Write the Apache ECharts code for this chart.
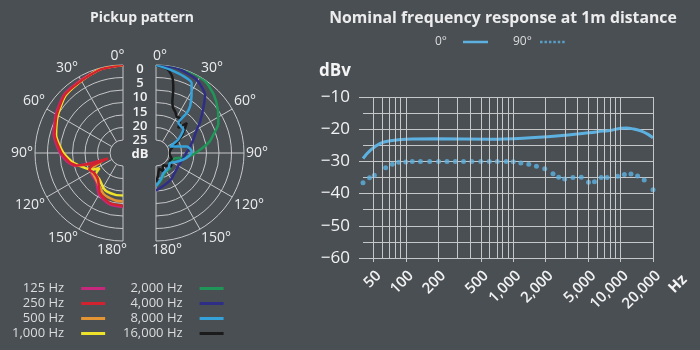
<!DOCTYPE html>
<html><head><meta charset="utf-8">
<script src="https://cdn.jsdelivr.net/npm/echarts@6/dist/echarts.min.js"></script>
<style>html,body{margin:0;padding:0;background:#4a4f54;}#c{width:700px;height:350px;}</style>
</head><body><div id="c"></div>
<script>
// ---------- Frequency response data ----------
const labelFreqs = [50, 100, 200, 500, 1000, 2000, 5000, 10000, 20000];
const gridFreqs = [40, 50, 60, 70, 80, 90, 100, 200, 300, 400, 500, 600, 700, 800, 900, 1000, 2000, 3000, 4000, 5000, 6000, 7000, 8000, 9000, 10000, 20000];
const freq0 = [40, 47, 58, 72, 100, 200, 600, 1235, 2530, 5100, 6800, 7900, 10050, 11300, 13000, 15600, 18000, 20000];
const db0 = [-29.1, -26.5, -24.4, -23.6, -23.1, -23.0, -23.1, -22.8, -22.1, -21.1, -20.6, -20.4, -19.7, -19.6, -19.9, -20.6, -21.6, -22.7];
const freq90 = [40, 46, 51, 65, 75, 86, 100, 115, 137, 167, 202, 242, 289, 345, 412, 499, 599, 711, 860, 1000, 1178, 1396, 1646, 1966, 2346, 2650, 3012, 3596, 4300, 5022, 5706, 6585, 7478, 9380, 10820, 12480, 14370, 16560, 20000];
const db90 = [-36.6, -35.1, -34.3, -32.0, -30.9, -30.3, -30.2, -30, -30, -30, -30, -30, -30, -30, -30, -30, -30, -30, -30, -30.1, -30.5, -30.9, -31.5, -32.3, -33.8, -34.9, -35.5, -35.0, -34.9, -36.5, -36.3, -35.0, -35.0, -34.6, -34.1, -33.9, -34.5, -35.8, -38.8];

// ---------- Pickup pattern data: angle (deg) / attenuation (dB) ----------
const a125 = [0, 15, 30, 45, 60, 75, 90, 100, 105, 110, 115, 125, 137, 150, 165, 180];
const d125 = [0, 0.4, 1.5, 2.0, 4.2, 6.5, 10.0, 13.0, 15.5, 27, 21, 20, 19.5, 16, 14, 13.6];
const a250 = [0, 15, 30, 45, 60, 75, 90, 100, 105, 108, 110, 112, 116, 125, 137, 150, 165, 180];
const d250 = [0, 0.6, 1.8, 2.3, 4.6, 6.9, 10.6, 13.6, 16, 21.2, 28.8, 22, 20.2, 21.2, 20.6, 16.7, 14.5, 14.1];
const a500 = [0, 15, 30, 45, 60, 75, 90, 100, 106, 112, 118, 128, 140, 155, 170, 180];
const d500 = [0, 0.5, 1.8, 2.5, 4.9, 7.2, 11, 14, 17, 26, 20.5, 20.5, 19.5, 17, 16, 15.8];
const a1000 = [0, 15, 30, 45, 60, 75, 90, 100, 110, 118, 123, 128, 139, 150, 157, 170, 180];
const d1000 = [0, 0.4, 1.9, 2.7, 5.1, 7.5, 11.4, 14.6, 18.4, 21, 24, 21.4, 21, 19.3, 18.5, 18.2, 18.2];
const a2000 = [0, 15, 25, 35, 45, 55, 65, 72, 78, 85, 92, 100, 106, 115, 125, 137, 155, 170, 180];
const d2000 = [0, 0, 0, 0.5, 2.4, 5, 7.7, 11, 13.3, 17.1, 20.3, 24.4, 27.4, 28.3, 28.5, 27, 26.6, 24, 22];
const a4000 = [0, 15, 29, 40, 45, 55, 62, 70, 80, 90, 105, 120, 135, 150, 165, 180];
const d4000 = [0, 0.3, 1.7, 4.7, 8.1, 13.7, 17.1, 19.3, 21.4, 23.1, 24.4, 24.9, 24.4, 23.1, 21.9, 20.1];
const a8000 = [0, 9.5, 20, 27, 32, 36, 37.5, 36.6, 49.5, 59, 64.8, 77.9, 87.4, 95, 103.8, 115, 125.5, 140, 160, 170, 180];
const d8000 = [0, 1.4, 2.6, 3.8, 8.4, 12, 15, 20.2, 20.8, 24.9, 29, 22.6, 20.9, 21.9, 24, 26.6, 28.3, 27.4, 26.6, 24.4, 21.9];
const a16000 = [0, 8, 12, 15, 18, 21, 25, 30, 35, 41.7, 45.7, 52, 57, 62, 70, 80, 90, 100, 110, 120, 130, 140, 150, 160, 168, 175, 180];
const d16000 = [0, 1.5, 4, 8.5, 14, 16, 17, 18.5, 18.2, 21.8, 18, 21, 23, 25.5, 28, 29.5, 29.8, 29.5, 28.5, 29, 27, 28.5, 29.5, 27.5, 28.8, 26, 23.5];
const ringTicks = ['0', '5', '10', '15', '20', '25', 'dB'];

// ---------- styling ----------
const FONT = '"Open Sans", "Noto Sans", sans-serif';
const GRID = '#c6c7c8';
const TXT = '#ececec';
const BLUE = '#5db1e1';

const fmt = n => String(n).replace(/\B(?=(\d{3})+(?!\d))/g, ',');
const pairs = (a, d) => a.map((ang, i) => [d[i], ang]);

const polarDefs = [
  { name: '125 Hz', color: '#c6287e', a: a125, d: d125, p: 0 },
  { name: '500 Hz', color: '#e39433', a: a500, d: d500, p: 0 },
  { name: '1,000 Hz', color: '#efe22a', a: a1000, d: d1000, p: 0 },
  { name: '250 Hz', color: '#d3222f', a: a250, d: d250, p: 0 },
  { name: '2,000 Hz', color: '#1f9657', a: a2000, d: d2000, p: 1 },
  { name: '4,000 Hz', color: '#2f2e86', a: a4000, d: d4000, p: 1 },
  { name: '16,000 Hz', color: '#1b1b1b', a: a16000, d: d16000, p: 1 },
  { name: '8,000 Hz', color: '#36a2da', a: a8000, d: d8000, p: 1 }
];

const polarSeries = polarDefs.map(s => ({
  name: s.name, type: 'line', coordinateSystem: 'polar', polarIndex: s.p,
  data: pairs(s.a, s.d), showSymbol: false, smooth: 0.2,
  lineStyle: { width: 2.5, color: s.color }, itemStyle: { color: s.color }
}));

const angleAx = (idx, endAngle, clockwise, shift0, shift180) => ({
  polarIndex: idx, type: 'value', min: 0, max: 180, interval: 30,
  startAngle: 90, endAngle: endAngle, clockwise: clockwise,
  axisLine: { show: false }, axisTick: { show: false },
  splitLine: { show: true, lineStyle: { color: GRID, width: 1 } },
  axisLabel: {
    color: TXT, fontSize: 14, margin: 2, fontFamily: FONT,
    formatter: v => v === 0 ? '{a|' + v + '°}' : (v === 180 ? '{b|' + v + '°}' : v + '°'),
    rich: {
      a: { color: TXT, fontSize: 14, fontFamily: FONT, padding: shift0 },
      b: { color: TXT, fontSize: 14, fontFamily: FONT, padding: shift180 }
    }
  }
});
const radiusAx = idx => ({
  polarIndex: idx, type: 'value', min: 0, max: 30, interval: 5, inverse: true,
  axisLine: { show: false }, axisTick: { show: false }, axisLabel: { show: false },
  splitLine: { show: true, lineStyle: { color: GRID, width: 1 } }
});

const graphics = [
  { type: 'text', x: 142, y: 18, style: { text: 'Pickup pattern', fill: TXT, font: 'bold 14px ' + FONT, align: 'center', verticalAlign: 'middle', textAlign: 'center', textVerticalAlign: 'middle' } },
  { type: 'text', x: 503, y: 18, style: { text: 'Nominal frequency response at 1m distance', fill: TXT, font: 'bold 15.8px ' + FONT, align: 'center', verticalAlign: 'middle', textAlign: 'center', textVerticalAlign: 'middle' } },
  { type: 'text', x: 335, y: 71, style: { text: 'dBv', fill: '#f4f4f4', font: 'bold 17px ' + FONT, align: 'center', verticalAlign: 'middle', textAlign: 'center', textVerticalAlign: 'middle' } },
  { type: 'text', x: 678, y: 284, rotation: Math.PI / 4, style: { text: 'Hz', fill: '#f4f4f4', font: 'bold 15px ' + FONT, align: 'center', verticalAlign: 'middle', textAlign: 'center', textVerticalAlign: 'middle' } }
];
const ringY = [69, 83, 97, 112, 126, 140, 154];
ringTicks.forEach((t, i) => graphics.push({
  type: 'text', x: 140, y: ringY[i],
  style: { text: t, fill: '#f2f2f2', font: (t === 'dB' ? 'bold ' : '600 ') + '13px ' + FONT, align: 'center', verticalAlign: 'middle', textAlign: 'center', textVerticalAlign: 'middle' }
}));

const legendText = { color: '#dcdcdc', fontSize: 13, fontFamily: FONT, lineHeight: 15, padding: [0, 12, 0, 0] };

const option = {
  backgroundColor: '#4a4f54',
  animation: false,
  textStyle: { fontFamily: FONT },
  graphic: graphics,
  polar: [
    { center: [123, 153], radius: [13, 88] },
    { center: [156, 153], radius: [13, 88] }
  ],
  angleAxis: [angleAx(0, 270, false, [0, 11, 0, 0], [0, 22, 0, 0]), angleAx(1, -90, true, [0, 0, 0, 8], [0, 0, 0, 22])],
  radiusAxis: [radiusAx(0), radiusAx(1)],
  grid: { left: 363, top: 97, width: 290, height: 161 },
  xAxis: {
    type: 'value', min: Math.log10(40), max: Math.log10(20000),
    splitLine: { show: false }, axisLine: { show: false },
    axisTick: { show: true, length: 4, customValues: labelFreqs.map(f => Math.log10(f)), lineStyle: { color: GRID } },
    axisLabel: {
      customValues: labelFreqs.map(f => Math.log10(f)), rotate: 45, margin: 10, verticalAlign: 'top',
      color: '#f2f2f2', fontSize: 15, fontWeight: 600, fontFamily: FONT,
      showMinLabel: true, showMaxLabel: true,
      formatter: v => fmt(Math.round(Math.pow(10, v)))
    }
  },
  yAxis: {
    type: 'value', min: -60, max: -10, interval: 10,
    axisLine: { show: false },
    axisTick: { show: true, length: 4, lineStyle: { color: GRID } },
    splitLine: { show: true, lineStyle: { color: GRID, width: 1 } },
    minorTick: { show: false, splitNumber: 2 },
    minorSplitLine: { show: true, lineStyle: { color: GRID, width: 1 } },
    axisLabel: { color: '#f2f2f2', fontSize: 17, margin: 13, fontFamily: FONT, formatter: v => '\u2212' + Math.abs(v) }
  },
  legend: [
    {
      data: [
        { name: '0°', icon: 'path://M0,0H26V2.6H0Z', textStyle: { padding: [0, 11, 0, 0] } },
        { name: '90°', icon: 'path://M0,0h2.6v2.6h-2.6z M4.6,0h2.6v2.6h-2.6z M9.2,0h2.6v2.6h-2.6z M13.8,0h2.6v2.6h-2.6z M18.4,0h2.6v2.6h-2.6z M23,0h2.6v2.6h-2.6z', textStyle: { padding: [0, 3, 0, 0] } }
      ],
      left: 435, top: 36, orient: 'horizontal', align: 'right', padding: 0,
      itemWidth: 25, itemHeight: 2.5, itemGap: 25, selectedMode: false,
      textStyle: { color: '#dcdcdc', fontSize: 12, fontFamily: FONT }
    },
    {
      data: ['125 Hz', '250 Hz', '500 Hz', '1,000 Hz'], icon: 'rect',
      left: 12, top: 281, orient: 'vertical', align: 'right', padding: 0,
      itemWidth: 24, itemHeight: 3, itemGap: 0, selectedMode: false, textStyle: legendText
    },
    {
      data: ['2,000 Hz', '4,000 Hz', '8,000 Hz', '16,000 Hz'], icon: 'rect',
      left: 123, top: 281, orient: 'vertical', align: 'right', padding: 0,
      itemWidth: 24, itemHeight: 3, itemGap: 0, selectedMode: false, textStyle: legendText
    }
  ],
  series: [
    {
      name: 'grid', type: 'line', data: [], z: 1, silent: true,
      markLine: {
        silent: true, symbol: ['none', 'none'], label: { show: false }, animation: false,
        lineStyle: { color: GRID, width: 1, type: 'solid' },
        emphasis: { disabled: true },
        data: gridFreqs.map(f => ({ xAxis: Math.log10(f) }))
      }
    },
    {
      name: '0°', type: 'line', data: freq0.map((f, i) => [Math.log10(f), db0[i]]),
      smooth: 0.4, showSymbol: false, z: 3,
      lineStyle: { width: 3, color: BLUE }, itemStyle: { color: BLUE }
    },
    {
      name: '90°', type: 'scatter', data: freq90.map((f, i) => [Math.log10(f), db90[i]]),
      symbolSize: 5, z: 3, itemStyle: { color: BLUE }
    }
  ].concat(polarSeries)
};

const chart = echarts.init(document.getElementById('c'), null, { renderer: 'canvas' });
chart.setOption(option);
</script></body></html>
